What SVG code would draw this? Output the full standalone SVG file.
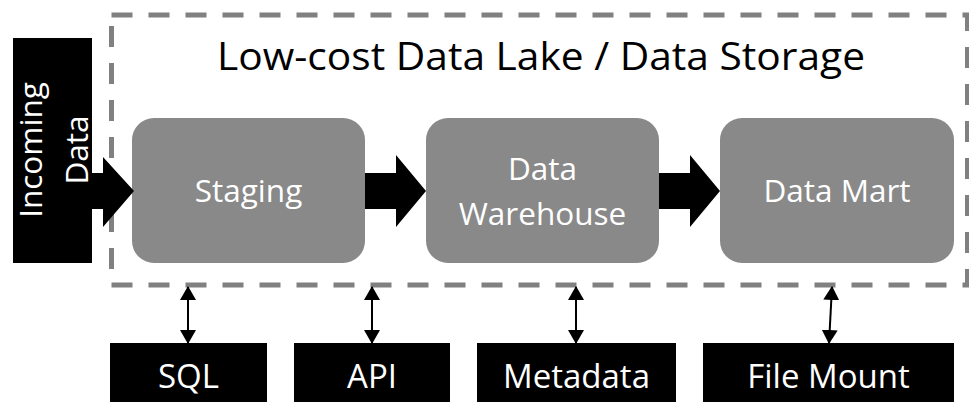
<svg xmlns="http://www.w3.org/2000/svg" width="969" height="402" viewBox="0 0 969 402">
<style>
.stage{fill:#898989}
.blk{fill:#000}
.wt{fill:#fff;font-family:"Open Sans","Noto Sans",sans-serif;font-size:31.5px;text-anchor:middle}
.bt{fill:#fff;font-family:"Open Sans","Noto Sans",sans-serif;font-size:33px;text-anchor:middle}
.title{fill:#000;font-family:"Open Sans","Noto Sans",sans-serif;font-size:39px;text-anchor:middle}
.dash{fill:none;stroke:#808080;stroke-width:5;stroke-dasharray:21 16}
.conn{stroke:#000;stroke-width:2;fill:none;marker-start:url(#ah);marker-end:url(#ah)}
</style>
<defs>
<marker id="ah" viewBox="0 0 14 16" refX="13" refY="8" markerWidth="14" markerHeight="16" markerUnits="userSpaceOnUse" orient="auto-start-reverse">
<path d="M0,0 L14,8 L0,16 Z" fill="#000"/>
</marker>
</defs>
<rect width="969" height="402" fill="#fff"/>
<g id="lake">
<rect class="dash" x="111.5" y="15" width="856" height="270"/>
<text class="title" x="541" y="70" textLength="648" lengthAdjust="spacingAndGlyphs">Low-cost Data Lake / Data Storage</text>
</g>
<g id="incoming">
<rect class="blk" x="13" y="38" width="79" height="225"/>
<text class="wt" transform="translate(42,150) rotate(-90)">Incoming</text>
<text class="wt" transform="translate(88,150) rotate(-90)">Data</text>
</g>
<g id="staging">
<rect class="stage" x="132" y="118" width="233" height="145" rx="22"/>
<text class="wt" x="248.5" y="202">Staging</text>
</g>
<g id="warehouse">
<rect class="stage" x="426" y="118" width="233" height="145" rx="22"/>
<text class="wt" x="542.5" y="180">Data</text>
<text class="wt" x="542.5" y="225">Warehouse</text>
</g>
<g id="datamart">
<rect class="stage" x="720" y="118" width="234" height="145" rx="22"/>
<text class="wt" x="837" y="202">Data Mart</text>
</g>
<g id="sql">
<rect class="blk" x="110" y="343" width="157" height="60"/>
<text class="bt" x="188.5" y="388">SQL</text>
</g>
<g id="api">
<rect class="blk" x="294" y="343" width="156" height="60"/>
<text class="bt" x="372" y="388">API</text>
</g>
<g id="metadata">
<rect class="blk" x="477" y="343" width="199" height="60"/>
<text class="bt" x="576.5" y="388">Metadata</text>
</g>
<g id="filemount">
<rect class="blk" x="703" y="343" width="251" height="60"/>
<text class="bt" x="828.5" y="388">File Mount</text>
</g>
<g id="connectors">
<path class="blk" d="M92,173 H103 V157 L134,191 L103,227 V209 H92 Z"/>
<path class="blk" d="M365,173 H396 V155 L426,191 L396,227 V209 H365 Z"/>
<path class="blk" d="M659,173 H690 V155 L720,191 L690,227 V209 H659 Z"/>
<line class="conn" x1="188" y1="287" x2="188" y2="343"/>
<line class="conn" x1="372" y1="287" x2="372" y2="343"/>
<line class="conn" x1="576" y1="287" x2="576" y2="343"/>
<line class="conn" x1="832" y1="287" x2="829" y2="343"/>
</g>
</svg>
